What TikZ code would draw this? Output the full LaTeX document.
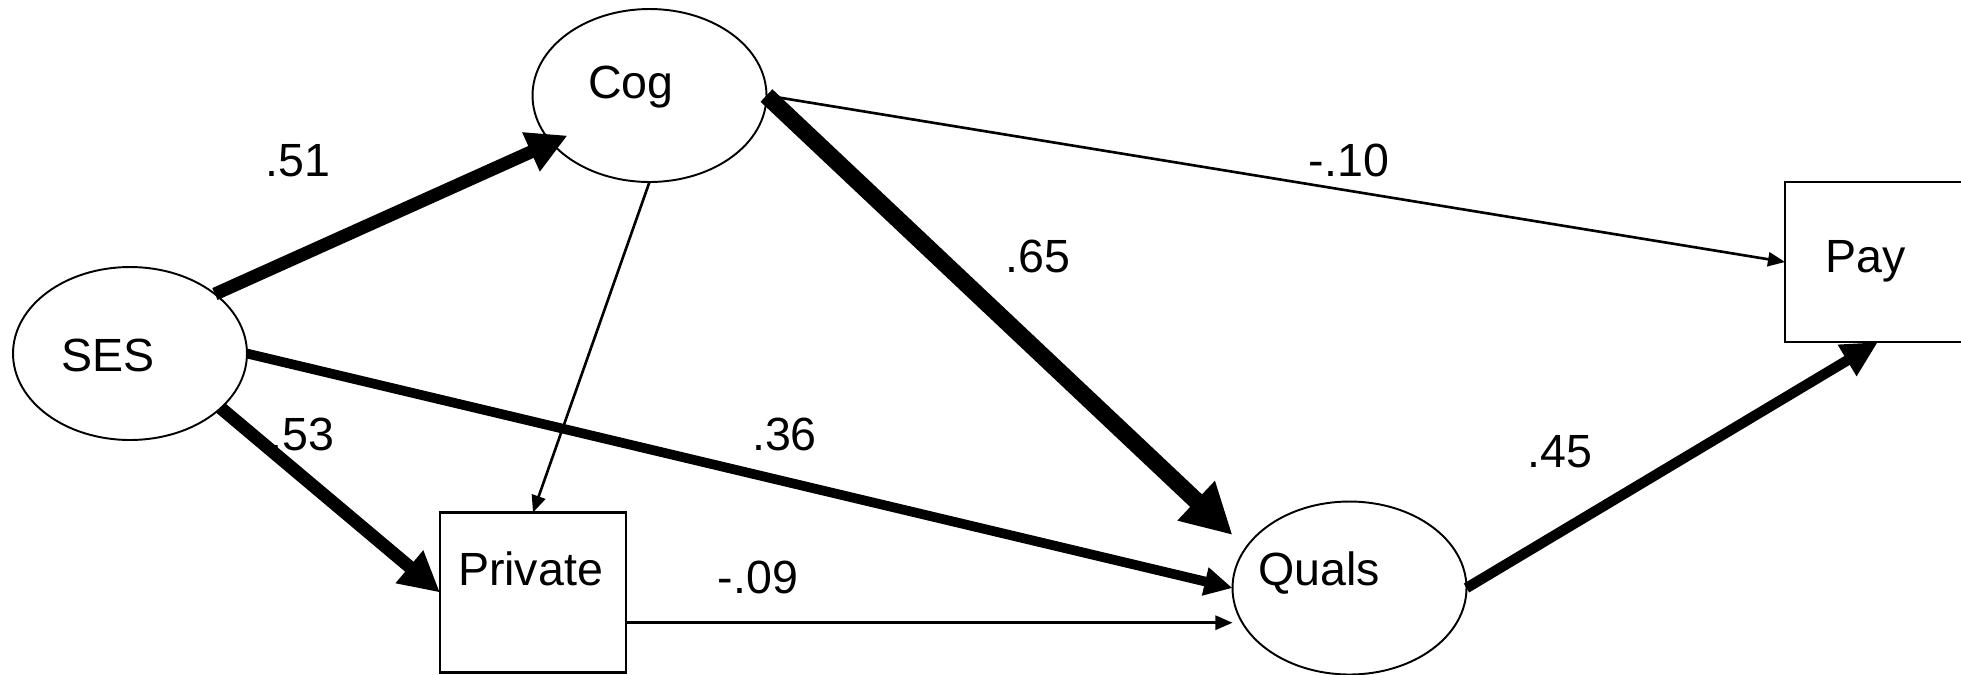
\documentclass[tikz,border=0pt]{standalone}
\usepackage{fontspec}
\setmainfont{Liberation Sans}
\usetikzlibrary{arrows.meta, shapes.geometric, calc}

\begin{document}
\begin{tikzpicture}[x=0.02cm, y=-0.02cm,
    latent/.style={draw, ellipse, line width=1.1pt, minimum width=4.68cm, minimum height=3.46cm, inner sep=0pt, outer sep=0pt},
    observed/.style={draw, rectangle, line width=1.5pt, minimum width=3.72cm, minimum height=3.2cm, inner sep=0pt, outer sep=0pt},
    txt/.style={anchor=base, inner sep=0pt, font=\fontsize{26.5}{32}\selectfont},
    thinpath/.style={line width=1.5pt, -{Triangle[length=9.7pt, width=8pt]}},
    midpath/.style={line width=5.5pt, -{Triangle[length=16pt, width=15.4pt]}},
    widepath/.style={line width=5.9pt, -{Triangle[length=20.5pt, width=19.4pt]}},
    boldpath/.style={line width=7.4pt, -{Triangle[length=22.8pt, width=22.8pt]}},
    heavypath/.style={line width=9.8pt, -{Triangle[length=28.5pt, width=29pt]}}]
  \useasboundingbox (0,0) rectangle (1961,674);

  % variables
  \node[latent] (ses) at (130,353.5) {};
  \node[latent] (cog) at (649.5,95.5) {};
  \node[latent] (quals) at (1349.5,588) {};
  \node[observed] (private) at (533,592.5) {};
  \node[observed] (pay) at (1878,262) {};

  \node[txt] (tses) at (108,371) {SES};
  \node[txt] (tcog) at (631,98) {Cog};
  \node[txt] (tquals) at (1319,585) {Quals};
  \node[txt] (tprivate) at (530.5,585) {Private};
  \node[txt] (tpay) at (1866,272) {Pay};

  % path coefficients
  \node[txt] (w51) at (298,176) {.51};
  \node[txt] (w53) at (302,450) {.53};
  \node[txt] (w36) at (784.5,450) {.36};
  \node[txt] (w09) at (758,593) {-.09};
  \node[txt] (w10) at (1349,176) {-.10};
  \node[txt] (w65) at (1038,272) {.65};
  \node[txt] (w45) at (1560,467) {.45};

  % paths
  \draw[boldpath] (ses.35) -- ($(cog.center)+(-82,40)$);
  \draw[boldpath] (ses.-31) -- (private.west);
  \draw[midpath] (ses.east) -- (quals.west);
  \draw[thinpath] (private.-18) -- (private.-18 -| quals.west);
  \draw[thinpath] (cog.south) -- (private.north);
  \draw[heavypath] (cog.east) -- ($(quals.west)+(0,-53)$);
  \draw[thinpath] (cog.east) -- (pay.west);
  \draw[widepath] (quals.east) -- (pay.south);
\end{tikzpicture}
\end{document}
